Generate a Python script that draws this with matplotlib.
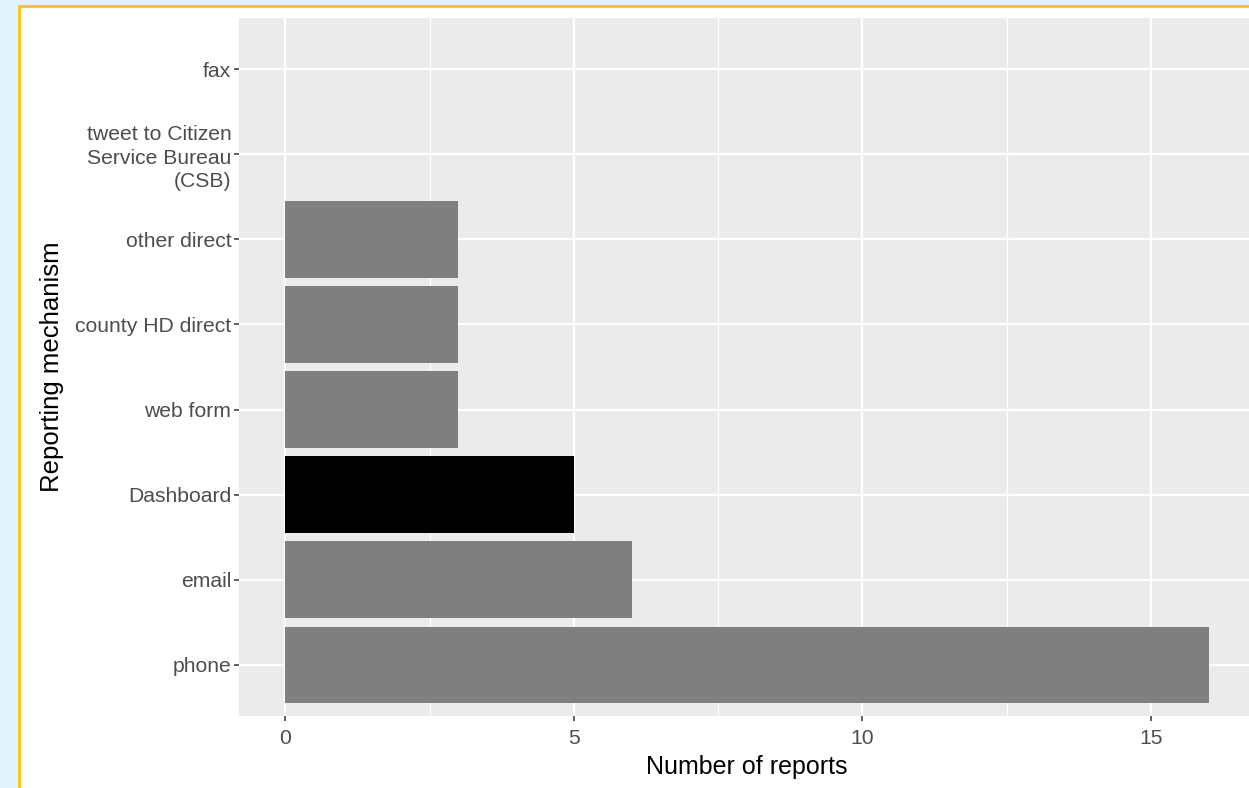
import matplotlib
matplotlib.use("Agg")
import matplotlib.pyplot as plt
from matplotlib.patches import Rectangle
from matplotlib.ticker import MultipleLocator

categories = ["phone", "email", "Dashboard", "web form", "county HD direct",
              "other direct", "tweet to Citizen\nService Bureau\n(CSB)", "fax"]
counts = [16, 6, 5, 3, 3, 3, 0, 0]
highlight = "Dashboard"
x_ticks = [0, 5, 10, 15]

plt.rcParams['font.family'] = ['Liberation Sans', 'DejaVu Sans']

W, H = 1249, 788
fig = plt.figure(figsize=(W / 100, H / 100), dpi=100)
fig.patch.set_facecolor("#E1F3FC")

# white card with yellow border (extends beyond right and bottom edges)
card = Rectangle((19 / W, -0.05), 1.1, 1.05 - 6 / H, transform=fig.transFigure,
                 facecolor="white", edgecolor="#FFC20E", linewidth=2, zorder=-5)
fig.patches.append(card)

left, right, top, bottom = 239, 1255, 18, 716
ax = fig.add_axes([left / W, 1 - bottom / H, (right - left) / W, (bottom - top) / H])
ax.set_zorder(1)
ax.set_facecolor("#EBEBEB")
for s in ax.spines.values():
    s.set_visible(False)

ypos = list(range(len(categories)))
colors = ["black" if c == highlight else "#7F7F7F" for c in categories]
ax.barh(ypos, counts, height=0.9, color=colors, zorder=3)

xmax = max(counts)
ax.set_xlim(-0.05 * xmax, xmax * 1.05)
ax.set_ylim(-0.6, len(categories) - 1 + 0.6)

ax.set_xticks(x_ticks)
ax.xaxis.set_minor_locator(MultipleLocator(2.5))
ax.set_yticks(ypos)
ax.set_yticklabels(categories, ha="right", multialignment="right",
                   linespacing=1.3)

ax.grid(which="major", color="white", linewidth=1.6, zorder=1)
ax.grid(which="minor", axis="x", color="white", linewidth=0.8, zorder=1)
ax.tick_params(which="minor", length=0)
ax.tick_params(which="major", length=3.5, width=1.1, color="#333333",
               labelcolor="#4D4D4D", labelsize=15.2, pad=2)
ax.tick_params(axis="x", pad=6)
ax.set_axisbelow(True)

ax.set_xlabel("Number of reports", fontsize=18, color="black", labelpad=5)
ax.set_ylabel("Reporting mechanism", fontsize=18.5, color="black", labelpad=8)

fig.savefig("out.png", dpi=100, facecolor=fig.get_facecolor())
